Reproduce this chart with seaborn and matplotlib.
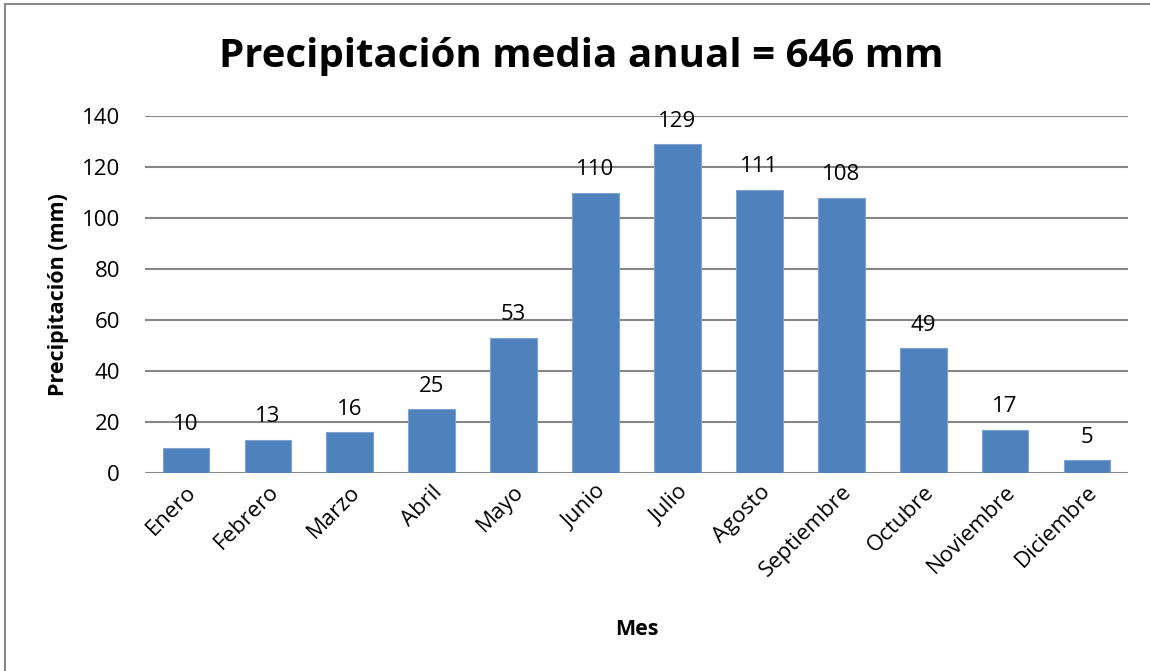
import matplotlib
matplotlib.use("Agg")
import matplotlib.pyplot as plt
import seaborn as sns
import pandas as pd
from matplotlib.patches import Rectangle

meses = ["Enero", "Febrero", "Marzo", "Abril", "Mayo", "Junio", "Julio",
         "Agosto", "Septiembre", "Octubre", "Noviembre", "Diciembre"]
precip = [10, 13, 16, 25, 53, 110, 129, 111, 108, 49, 17, 5]
yticks = [0, 20, 40, 60, 80, 100, 120, 140]

sns.set_style("white")
plt.rcParams['font.family'] = ['Open Sans', 'DejaVu Sans']
plt.rcParams['text.color'] = 'black'
plt.rcParams['axes.labelcolor'] = 'black'
plt.rcParams['xtick.color'] = 'black'
plt.rcParams['ytick.color'] = 'black'

df = pd.DataFrame({"Mes": meses, "Precipitación": precip})

fig = plt.figure(figsize=(11.5, 6.71), dpi=100)
ax = fig.add_axes([145/1150, 1-473/671, (1128-145)/1150, (473-116)/671])

sns.barplot(data=df, x="Mes", y="Precipitación", color="#4F81BD",
            saturation=1, width=0.57, ax=ax, zorder=3, linewidth=0.8,
            edgecolor="#7FA3D0")

ax.set_ylim(0, 140)
ax.set_xlim(-0.5, 11.5)
ax.set_yticks(yticks)
ax.yaxis.grid(True, color="#868686", linewidth=1.5, zorder=0)
for s in ax.spines.values():
    s.set_visible(False)
ax.tick_params(axis='y', labelsize=16, length=0, pad=18, colors='black')
ax.tick_params(axis='x', labelsize=16, length=0, pad=6, colors='black')
for lbl in ax.get_xticklabels():
    lbl.set_rotation(45)
    lbl.set_ha('right')
    lbl.set_rotation_mode('anchor')

for i, v in enumerate(precip):
    ax.annotate(str(v), (i, v), xytext=(0, 9), textcoords='offset points',
                ha='center', va='bottom', fontsize=16, color='black')

ax.set_xlabel("Mes", fontsize=15.5, fontweight='bold', color='black')
ax.set_ylabel("Precipitación (mm)", fontsize=15.5, fontweight='bold', color='black')
ax.xaxis.set_label_coords(0.5, -0.41)
ax.yaxis.set_label_coords(-0.077, 0.5)

fig.text(581/1150, 1-56/671, "Precipitación media anual = 646 mm",
         ha='center', va='center', fontsize=29, fontweight='bold', color='black')

fig.patches.append(Rectangle((5/1150, -0.1), 1.2, 1-4/671+0.1, transform=fig.transFigure,
                             fill=False, edgecolor='#888888', linewidth=1.5))

fig.savefig("out.png", dpi=100)
